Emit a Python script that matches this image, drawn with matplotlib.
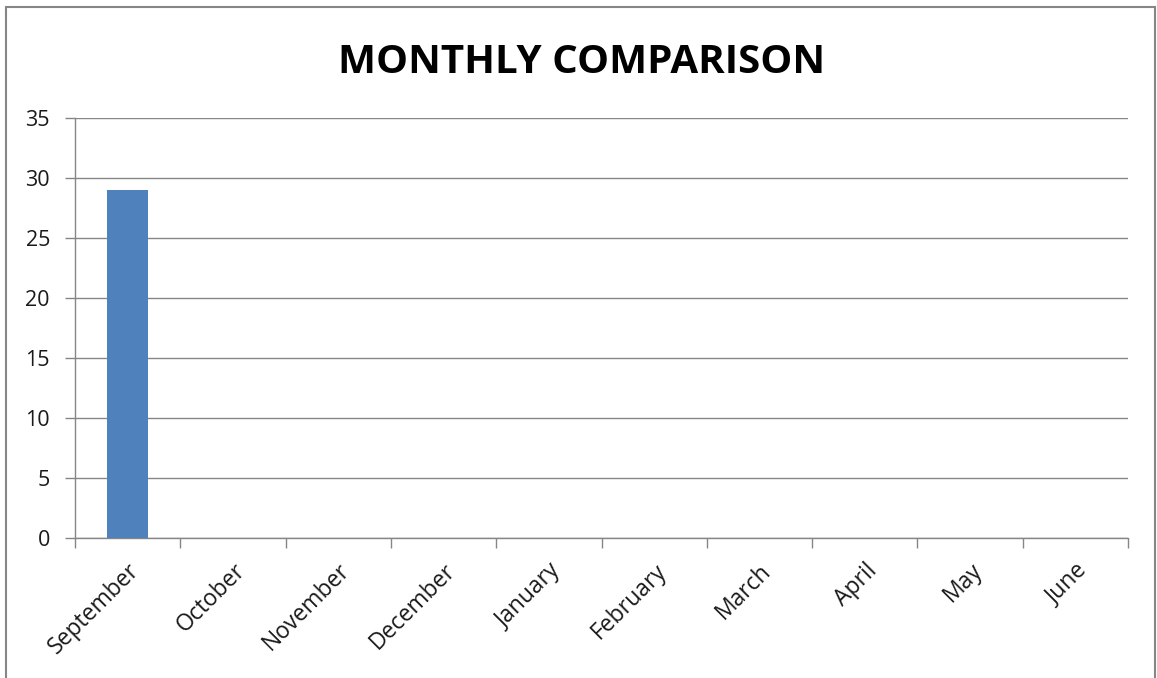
import matplotlib.pyplot as plt
from matplotlib.patches import Rectangle

months = ["September", "October", "November", "December", "January",
          "February", "March", "April", "May", "June"]
values = [29, 0, 0, 0, 0, 0, 0, 0, 0, 0]
y_ticks = [0, 5, 10, 15, 20, 25, 30, 35]

plt.rcParams['font.family'] = ['Open Sans', 'DejaVu Sans']

fig = plt.figure(figsize=(11.57, 6.78), dpi=100)
ax = fig.add_axes([75 / 1157, 1 - 538 / 678, (1128 - 75) / 1157, (538 - 118) / 678])

x = list(range(len(months)))
ax.bar(x, values, width=0.39, color="#4F81BD", zorder=3)

ax.set_xlim(-0.5, len(months) - 0.5)
ax.set_ylim(0, 35)
ax.set_yticks(y_ticks)
ax.set_yticklabels([str(v) for v in y_ticks], fontsize=15.5, color="#1a1a1a")
ax.yaxis.grid(True, color="#868686", linewidth=1)
ax.set_axisbelow(True)

# category boundaries carry the tick marks, labels sit at category centres
ax.set_xticks([i - 0.5 for i in range(len(months) + 1)])
ax.set_xticklabels([])
ax.set_xticks(x, minor=True)
ax.set_xticklabels(months, minor=True, rotation=45, ha="right",
                   rotation_mode="anchor", fontsize=16.5, color="#1a1a1a")
ax.tick_params(axis="x", which="minor", length=0, pad=15)
ax.tick_params(axis="x", which="major", length=7, color="#868686", width=1)
ax.tick_params(axis="y", length=7, color="#868686", width=1, pad=11)

for s in ["top", "right"]:
    ax.spines[s].set_visible(False)
ax.spines["left"].set_color("#868686")
ax.spines["bottom"].set_color("#868686")
ax.spines["left"].set_linewidth(1)
ax.spines["bottom"].set_linewidth(1)

fig.text(582 / 1157, 1 - 73 / 678, "MONTHLY COMPARISON", ha="center", va="baseline",
         fontsize=29, fontweight="bold")

fig.patches.append(Rectangle((6 / 1157, -0.05), (1155 - 6) / 1157, 1.05 - 7 / 678,
                             transform=fig.transFigure, fill=False,
                             edgecolor="#868686", linewidth=1.5))

fig.savefig("out.png", dpi=100)
